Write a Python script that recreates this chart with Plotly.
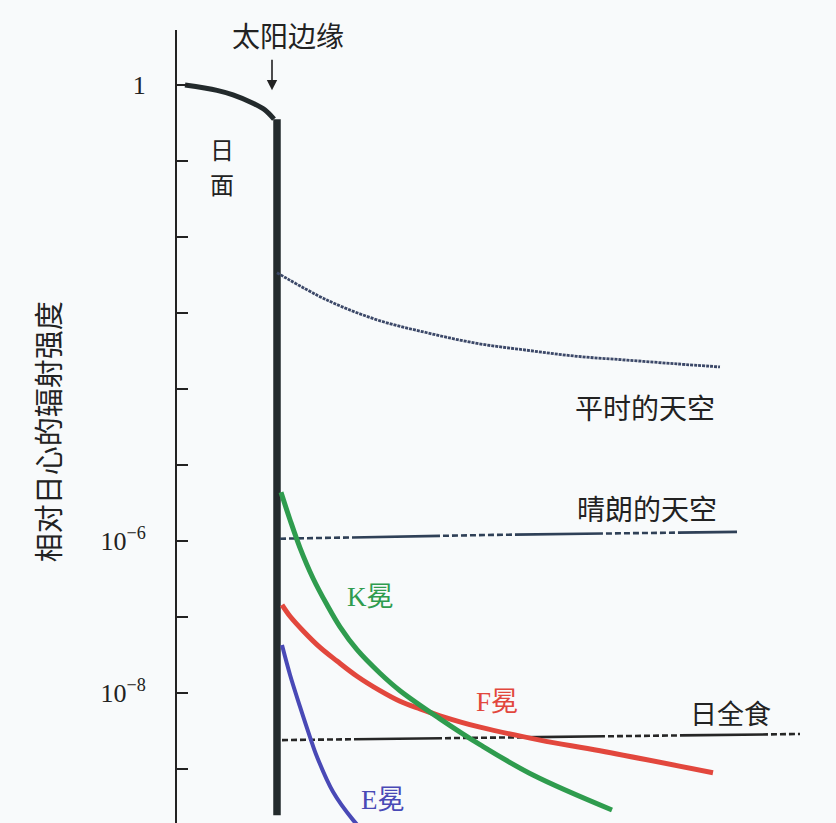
import plotly.graph_objects as go

# ---- data (x: distance from Sun centre in solar radii, y: log10 of relative intensity) ----
disk_r = [0.08, 0.40, 0.56, 0.76, 0.88, 0.97]
disk_log = [0.00, -0.07, -0.13, -0.24, -0.33, -0.45]

limb_r = [1.0, 1.0]
limb_log = [-0.45, -9.61]

sky_r = [1.0, 1.50, 2.00, 2.50, 3.00, 3.50, 4.00, 4.50, 5.00, 5.43]
sky_log = [-2.47, -2.83, -3.09, -3.26, -3.40, -3.49, -3.57, -3.62, -3.67, -3.71]

clear_r = [1.03, 3.16, 5.60]
clear_log = [-5.97, -5.92, -5.88]

eclipse_r = [1.05, 3.50, 6.23]
eclipse_log = [-8.62, -8.58, -8.54]

k_r = [1.04, 1.13, 1.23, 1.36, 1.50, 1.63, 1.80, 2.03, 2.23, 2.63, 3.03, 3.56, 4.35]
k_log = [-5.36, -5.72, -6.09, -6.49, -6.84, -7.13, -7.43, -7.74, -7.97, -8.34, -8.68, -9.08, -9.54]

f_r = [1.05, 1.13, 1.26, 1.43, 1.60, 1.80, 2.03, 2.23, 2.43, 2.63, 3.03, 3.63, 4.23, 5.36]
f_log = [-6.84, -6.99, -7.18, -7.40, -7.58, -7.78, -7.97, -8.11, -8.21, -8.30, -8.45, -8.62, -8.76, -9.05]

e_r = [1.05, 1.13, 1.23, 1.33, 1.40, 1.56, 1.76, 1.93]
e_log = [-7.37, -7.76, -8.18, -8.58, -8.84, -9.30, -9.67, -9.91]

tick_exp = [0, -1, -2, -3, -4, -5, -6, -7, -8, -9]
tick_text = ["1", "", "", "", "", "", "10<sup>−6</sup>", "", "10<sup>−8</sup>", ""]

DARK = "#232a2c"
GREEN = "#2f9c4e"
RED = "#e2473d"
BLUE = "#4949b6"
SKY = "#3c4868"
CLEAR = "#2f4057"


def lin(v):
    return [10 ** a for a in v]


# dash pattern: a run of short dashes, then a long solid run
dash_part = ",".join(["6px,3px"] * 8)
mixed_dash = dash_part + ",88px,3px"

fig = go.Figure()
fig.add_trace(go.Scatter(x=disk_r, y=lin(disk_log), mode="lines",
                         line=dict(color=DARK, width=5, shape="spline"), hoverinfo="skip"))
fig.add_trace(go.Scatter(x=limb_r, y=lin(limb_log), mode="lines",
                         line=dict(color=DARK, width=7.5), hoverinfo="skip"))
fig.add_trace(go.Scatter(x=sky_r, y=lin(sky_log), mode="lines",
                         line=dict(color=SKY, width=2.8, dash="3px,1px", shape="spline"), hoverinfo="skip"))
fig.add_trace(go.Scatter(x=clear_r, y=lin(clear_log), mode="lines",
                         line=dict(color=CLEAR, width=2.6, dash=mixed_dash), hoverinfo="skip"))
fig.add_trace(go.Scatter(x=eclipse_r, y=lin(eclipse_log), mode="lines",
                         line=dict(color="#262626", width=2.6, dash=mixed_dash), hoverinfo="skip"))
fig.add_trace(go.Scatter(x=f_r, y=lin(f_log), mode="lines",
                         line=dict(color=RED, width=5, shape="spline"), hoverinfo="skip"))
fig.add_trace(go.Scatter(x=k_r, y=lin(k_log), mode="lines",
                         line=dict(color=GREEN, width=5, shape="spline"), hoverinfo="skip"))
fig.add_trace(go.Scatter(x=e_r, y=lin(e_log), mode="lines",
                         line=dict(color=BLUE, width=4, shape="spline"), hoverinfo="skip"))

CJK = "Noto Sans CJK SC"
SERIF = "Liberation Serif"


def label(x, y, text, color="#222", size=27):
    fig.add_annotation(x=x, y=y, xref="x", yref="y", text=text, showarrow=False,
                       xanchor="center", yanchor="middle",
                       font=dict(family=CJK, size=size, color=color))


label(1.11, 0.66, "太阳边缘", size=28)
label(0.45, -0.84, "日", size=24)
label(0.45, -1.30, "面", size=24)
label(4.68, -4.24, "平时的天空", size=28)
label(4.70, -5.57, "晴朗的天空", size=28)
label(1.93, -6.71, f"<span style='font-family:{SERIF}'>K</span>冕", color=GREEN, size=27)
label(3.20, -8.09, f"<span style='font-family:{SERIF}'>F</span>冕", color=RED, size=27)
label(5.53, -8.26, "日全食", size=27)
label(2.06, -9.38, f"<span style='font-family:{SERIF}'>E</span>冕", color=BLUE, size=27)

# arrow pointing at the solar limb
fig.add_annotation(x=0.95, y=-0.07, xref="x", yref="y", text="", showarrow=True,
                   ax=0, ay=-32, arrowhead=2, arrowsize=1.3, arrowwidth=1.6, arrowcolor="#222")
# arrow head on top of the y axis
fig.add_annotation(x=0, y=0.80, xref="x", yref="y", text="", showarrow=True,
                   ax=0, ay=22, arrowhead=2, arrowsize=1.2, arrowwidth=2, arrowcolor="#222")

# y-axis title
fig.add_annotation(x=-0.197, y=0.493, xref="paper", yref="paper", text="相对日心的辐射强度",
                   textangle=-90, showarrow=False, xanchor="center", yanchor="middle",
                   font=dict(family=CJK, size=29, color="#222"))

fig.update_layout(
    width=836, height=823,
    margin=dict(l=177, r=0, t=30, b=0),
    paper_bgcolor="#f8fafb", plot_bgcolor="#f8fafb",
    showlegend=False,
    xaxis=dict(range=[0, 6.59], visible=False, showgrid=False, zeroline=False),
    yaxis=dict(type="log", range=[-9.711, 0.724], showgrid=False, zeroline=False,
               showline=True, linecolor="#222", linewidth=2,
               tickvals=lin(tick_exp), ticktext=tick_text,
               ticks="inside", ticklen=11, tickwidth=2, tickcolor="#222",
               ticklabelstandoff=24,
               tickfont=dict(family=SERIF, size=26, color="#222")),
)

fig.write_html("out.html", config={"displayModeBar": False},
               post_script="document.body.style.margin='0px';")
